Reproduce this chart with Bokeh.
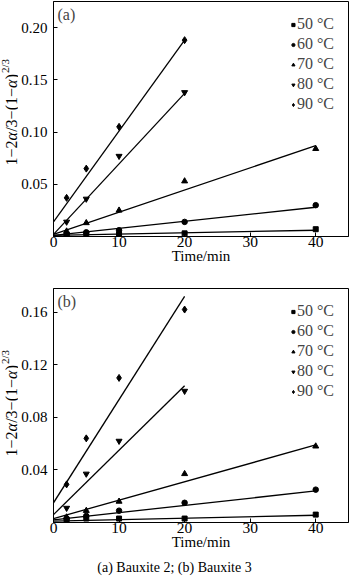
import math
from bokeh.plotting import figure
from bokeh.models import Label, Legend, LegendItem, FixedTicker, Range1d, PrintfTickFormatter
from bokeh.layouts import column, row
from bokeh.embed import file_html
from bokeh.resources import INLINE

# ---------------- data ----------------
times = [2, 5, 10, 20, 40]
temps = ["50 °C", "60 °C", "70 °C", "80 °C", "90 °C"]

# panel (a) Bauxite 2
a50 = [0.001, 0.002, 0.002, 0.003, 0.007]
a60 = [0.002, 0.004, 0.006, 0.014, 0.030]
a70 = [0.005, 0.013, 0.025, 0.053, 0.084]
a80 = [0.014, 0.036, 0.077, 0.138]
a90 = [0.037, 0.065, 0.105, 0.188]

# panel (b) Bauxite 3
b50 = [0.002, 0.003, 0.003, 0.003, 0.006]
b60 = [0.003, 0.005, 0.009, 0.015, 0.025]
b70 = [0.004, 0.009, 0.016, 0.037, 0.058]
b80 = [0.011, 0.037, 0.062, 0.100]
b90 = [0.029, 0.064, 0.110, 0.162]

# fitted straight lines (start at fit_x_start, end at fit_x_end)
fit_x_start = [0, 0, 0, 0, 0]
fit_x_end = [40, 40, 40, 20, 20]
a_fit_start = [0.001, 0.001, 0.002, 0.002, 0.014]
a_fit_end = [0.006, 0.028, 0.087, 0.137, 0.188]
b_fit_start = [0.001, 0.002, 0.003, 0.006, 0.015]
b_fit_end = [0.0055, 0.024, 0.059, 0.104, 0.172]

x_ticks = [0, 10, 20, 30, 40]
a_y_ticks = [0.05, 0.10, 0.15, 0.20]
b_y_ticks = [0.04, 0.08, 0.12, 0.16]
caption = "(a) Bauxite 2; (b) Bauxite 3"
x_label = "Time/min"

# ---------------- style ----------------
FONT = "'Liberation Serif', 'Times New Roman', serif"
W = 350
LAB_W = 18
B_LEFT, B_RIGHT = 35, 2
X_MAX = 45
markers = ["square", "circle", "triangle", "inverted_triangle", "diamond"]
msizes = [5, 5.5, 6, 6, 7]

YL = 16  # y-label font size (px)
ylab_parts = [("1−2", "normal"), ("α", "italic"), ("/3−(1−", "normal"),
              ("α", "italic"), (")", "normal")]
char_w = {"1": 0.5, "2": 0.5, "3": 0.5, "−": 0.564, "/": 0.278, "(": 0.333, ")": 0.333, "α": 0.54}


def text_w(s, size):
    return sum(char_w.get(c, 0.5) for c in s) * size


def blank_fig(w, h, y_top=0, y_bottom=None):
    # y range given in page pixels (the frame is aligned with the neighbouring plot frame)
    f = figure(width=w, height=h, output_backend="svg", toolbar_location=None,
               title_location=None,
               x_range=Range1d(0, w),
               y_range=Range1d(h if y_bottom is None else y_bottom, y_top),
               min_border=0, x_axis_location=None, y_axis_location=None)
    f.grid.visible = False
    f.outline_line_color = None
    f.background_fill_color = "white"
    f.border_fill_color = "white"
    return f


def ylabel_fig(h, frame_top, frame_bottom, bottom_start):
    f = blank_fig(LAB_W, h, frame_top, frame_bottom)
    sy = bottom_start
    for txt, style in ylab_parts:
        f.add_layout(Label(x=10.5, y=sy, text=txt, angle=math.pi / 2,
                           text_font=FONT, text_font_size=f"{YL}px",
                           text_font_style=style, text_align="left",
                           text_baseline="middle", text_color="black"))
        sy -= text_w(txt, YL)
    f.add_layout(Label(x=4.5, y=sy - 1, text="2/3", angle=math.pi / 2,
                       text_font=FONT, text_font_size="11px", text_align="left",
                       text_baseline="middle", text_color="black"))
    return f


def make_panel(tag, series, fit_start, fit_end, ymax, yticks, height, b_top, b_bottom):
    p = figure(width=W - LAB_W, height=height, output_backend="svg", toolbar_location=None,
               title_location=None,
               x_range=Range1d(0, X_MAX), y_range=Range1d(0, ymax),
               min_border_left=B_LEFT, min_border_right=B_RIGHT,
               min_border_top=b_top, min_border_bottom=b_bottom)
    p.grid.visible = False
    p.outline_line_color = "black"
    p.outline_line_width = 1
    p.background_fill_color = "white"
    p.border_fill_color = "white"

    fh = height - b_top - b_bottom
    fw = W - LAB_W - B_LEFT - B_RIGHT

    def dx(px):  # px from frame left
        return px / fw * X_MAX

    def dy(py):  # py from frame top
        return (fh - py) / fh * ymax

    for ax in (p.xaxis[0], p.yaxis[0]):
        ax.major_tick_in = 4
        ax.major_tick_out = 0
        ax.minor_tick_in = 0
        ax.minor_tick_out = 0
        ax.axis_line_color = "black"
        ax.major_tick_line_color = "black"
        ax.major_label_text_font = FONT
        ax.major_label_text_color = "black"
        ax.axis_label_text_font = FONT
        ax.axis_label_text_font_style = "normal"
        ax.axis_label_text_color = "black"
    p.xaxis.ticker = FixedTicker(ticks=x_ticks)
    p.xaxis.formatter = PrintfTickFormatter(format="%d")
    p.xaxis.major_label_text_font_size = "15.5px"
    p.xaxis.major_label_standoff = 0
    p.xaxis.axis_label = x_label
    p.xaxis.axis_label_text_font_size = "15px"
    p.xaxis.axis_label_standoff = -2
    p.yaxis.ticker = FixedTicker(ticks=yticks)
    p.yaxis.formatter = PrintfTickFormatter(format="%.2f")
    p.yaxis.major_label_text_font_size = "15px"
    p.yaxis.major_label_standoff = 6

    items = []
    for i, vals in enumerate(series):
        p.line([fit_x_start[i], fit_x_end[i]], [fit_start[i], fit_end[i]],
               line_color="black", line_width=1.3)
        r = p.scatter(times[:len(vals)], vals, marker=markers[i], size=msizes[i],
                      fill_color="black", line_color="black")
        items.append(LegendItem(label=temps[i], renderers=[r]))

    leg = Legend(items=items, location="top_right", margin=14, padding=0,
                 spacing=2, glyph_width=8, glyph_height=13, label_height=13,
                 label_standoff=0, border_line_color=None, background_fill_alpha=0,
                 label_text_font=FONT, label_text_font_size="16px")
    p.add_layout(leg)

    p.add_layout(Label(x=dx(4), y=dy(13), text=tag, text_font=FONT,
                       text_font_size="16px", text_baseline="middle", text_align="left"))
    return p


p1 = make_panel("(a)", [a50, a60, a70, a80, a90], a_fit_start, a_fit_end, 0.225, a_y_ticks,
                280, 1, 44)
p2 = make_panel("(b)", [b50, b60, b70, b80, b90], b_fit_start, b_fit_end, 0.178, b_y_ticks,
                278, 8, 36)
# label figures: their frames align with the panel frames (page y 1..236 and 288..522)
l1 = ylabel_fig(280, 1, 236, 165)
l2 = ylabel_fig(278, 288, 522, 456)

cap = blank_fig(W, 20)
cap.add_layout(Label(x=174, y=9, text=caption, text_font=FONT, text_font_size="14px",
                     text_align="center", text_baseline="middle", text_color="black"))

layout = column(row(l1, p1, spacing=0), row(l2, p2, spacing=0), cap, spacing=0)
open("out.html", "w").write(file_html(layout, INLINE))
